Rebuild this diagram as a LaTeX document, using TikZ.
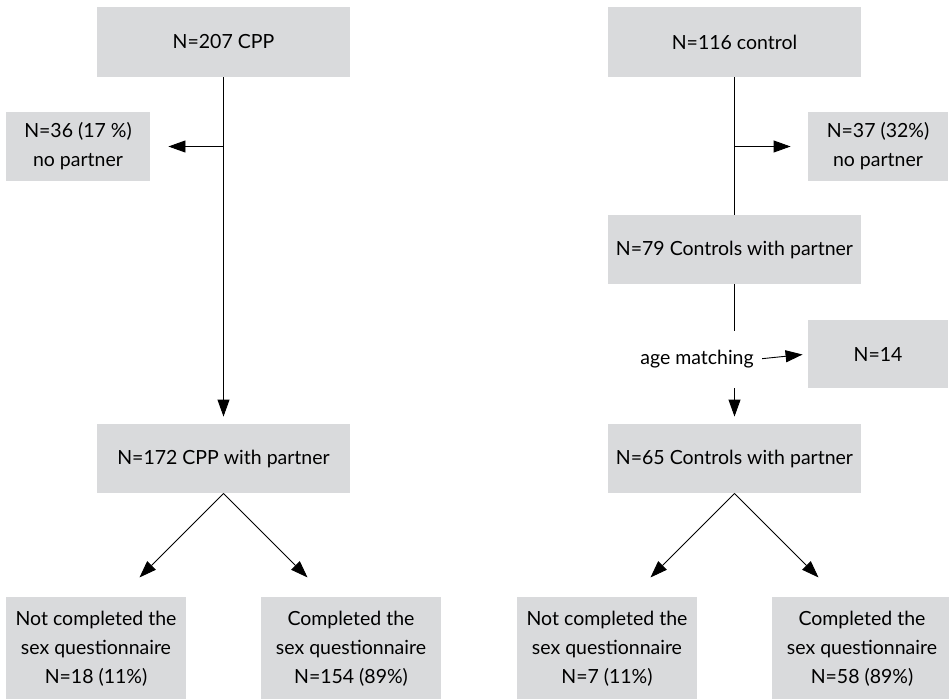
\documentclass[tikz,border=0pt]{standalone}
\usepackage{fontspec}
\setmainfont{Lato}
\usepackage{tikz}
\usetikzlibrary{arrows.meta,positioning}
\definecolor{boxgrey}{RGB}{217,218,220}
\tikzset{
box/.style={fill=boxgrey,inner sep=0pt,align=center,minimum height=69pt},
wide/.style={box,minimum width=253pt},
side/.style={box,minimum width=142pt},
leaf/.style={box,minimum width=180pt,minimum height=103pt},
arr/.style={-{Triangle[length=17pt,width=12pt]}},
}
\begin{document}
\begin{tikzpicture}[x=1pt,y=-1pt,line width=0.9pt,font=\fontsize{19.5}{29}\selectfont]
\useasboundingbox (0,0) rectangle (949,698);
% CPP branch
\node [wide,minimum height=70pt] (b1) at (223.5,42) {N=207 CPP};
\node [side,minimum width=144pt] (b2) at (78,146.5) {N=36 (17 \%)\\no partner};
\node [wide] (b3) at (223.5,458.5) {N=172 CPP with partner};
\node [leaf] (b4) at (96,648.5) {Not completed the\\sex questionnaire\\N=18 (11\%)};
\node [leaf] (b5) at (351,648.5) {Completed the\\sex questionnaire\\N=154 (89\%)};
% control branch
\node [wide,minimum height=70pt] (b6) at (734.5,42) {N=116 control};
\node [side,minimum width=140pt] (b8) at (878,146.5) {N=37 (32\%)\\no partner};
\node [wide] (b7) at (734.5,249.5) {N=79 Controls with partner};
\node [side,minimum width=140pt,minimum height=68pt] (b9) at (878,354) {N=14};
\node [inner sep=0pt,minimum height=57pt] (agem) at (697,359.5) {age matching};
\node [wide] (b10) at (734.5,458.5) {N=65 Controls with partner};
\node [leaf] (b11) at (607,648.5) {Not completed the\\sex questionnaire\\N=7 (11\%)};
\node [leaf] (b12) at (862,648.5) {Completed the\\sex questionnaire\\N=58 (89\%)};

\coordinate [below left=84pt and 84pt of b3.south] (t4);
\coordinate [below right=84pt and 84pt of b3.south] (t5);
\coordinate [below left=84pt and 84pt of b10.south] (t11);
\coordinate [below right=84pt and 84pt of b10.south] (t12);

\draw [arr,shorten >=7pt] (b1) -- (b3);
\draw [arr,shorten >=18pt] (b1.south |- b2.east) -- (b2.east);
\draw [arr] (b3.south) -- (t4);
\draw [arr] (b3.south) -- (t5);

\draw (b6) -- (b7);
\draw [arr,shorten >=17pt] (b6.south |- b8.west) -- (b8.west);
\draw (b7.south) -- (b7.south |- agem.north);
\draw [arr,shorten >=7pt] (b7.south |- agem.south) -- (b10.north);
\draw [arr,shorten <=8pt,shorten >=5pt] (agem.east) -- (b9.west);
\draw [arr] (b10.south) -- (t11);
\draw [arr] (b10.south) -- (t12);
\end{tikzpicture}
\end{document}
